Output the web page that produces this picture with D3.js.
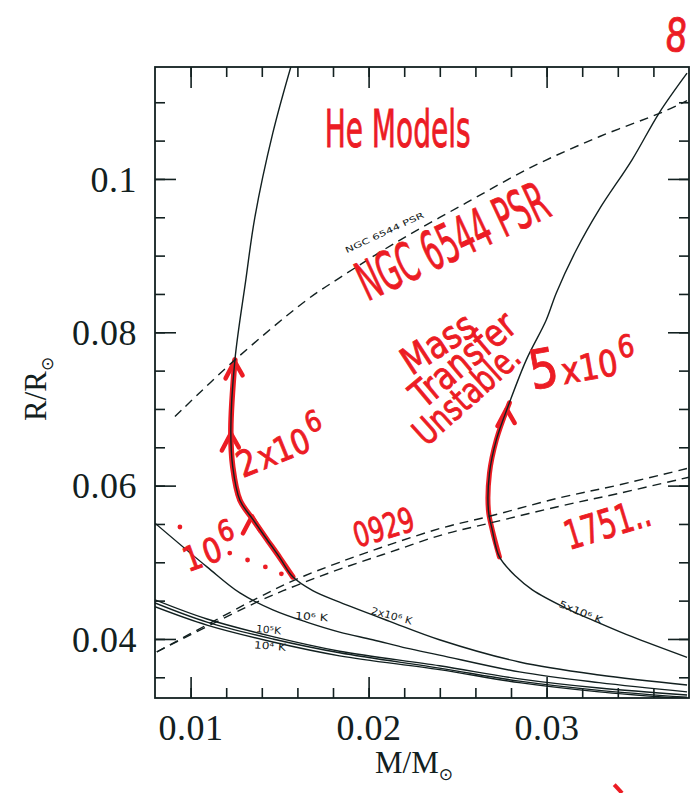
<!DOCTYPE html>
<html>
<head>
<meta charset="utf-8">
<script src="https://cdn.jsdelivr.net/npm/d3@7"></script>
<style>
  body { margin: 0; background: #fff; }
  svg { display: block; }
  .red { font-family: "DejaVu Sans", sans-serif; fill: #ec1c24; stroke: #ec1c24; stroke-width: 0.9; }
  .tag { font-family: "DejaVu Sans", sans-serif; fill: #122020; }
</style>
</head>
<body>
<svg id="chart" width="698" height="793"></svg>
<script>
// tick values
const xTicks = [0.01, 0.012, 0.014, 0.016, 0.018, 0.02, 0.022, 0.024, 0.026, 0.028, 0.03, 0.032, 0.034, 0.036];
const xMajor = [0.01, 0.02, 0.03];
const yTicks = [0.035, 0.04, 0.045, 0.05, 0.055, 0.06, 0.065, 0.07, 0.075, 0.08, 0.085, 0.09, 0.095, 0.1, 0.105, 0.11];
const yMajor = [0.04, 0.06, 0.08, 0.1];

// evolutionary tracks, [M/Msun, R/Rsun]
const track2e6 = [[0.01563, 0.1146], [0.01462, 0.1060], [0.01361, 0.0950], [0.01310, 0.0868], [0.01249, 0.0764],
  [0.01226, 0.0673], [0.01237, 0.0624], [0.01277, 0.0581], [0.01350, 0.0556], [0.01422, 0.0532], [0.01501, 0.0506],
  [0.01574, 0.0481], [0.01686, 0.0463], [0.01837, 0.0448], [0.02118, 0.0423], [0.02398, 0.0399], [0.02847, 0.0370],
  [0.03295, 0.0353], [0.03789, 0.0340]];
const track5e6 = [[0.03789, 0.1138], [0.03632, 0.1086], [0.03480, 0.1025], [0.03295, 0.0960], [0.03166, 0.0907],
  [0.03054, 0.0851], [0.02998, 0.0816], [0.02886, 0.0764], [0.02791, 0.0708], [0.02718, 0.0660], [0.02679, 0.0616],
  [0.02673, 0.0568], [0.02695, 0.0542], [0.02735, 0.0507], [0.02830, 0.0481], [0.02920, 0.0464], [0.03110, 0.0440],
  [0.03295, 0.0421], [0.03480, 0.0403], [0.03789, 0.0376]];
const track1e6 = [[0.00800, 0.0551], [0.01092, 0.0494], [0.01277, 0.0460], [0.01462, 0.0438], [0.01652, 0.0422],
  [0.01837, 0.0409], [0.02023, 0.0399], [0.02213, 0.0388], [0.02398, 0.0379], [0.02847, 0.0357], [0.03295, 0.0343],
  [0.03789, 0.0331]];
const track1e5 = [[0.008, 0.0451], [0.01092, 0.0426], [0.01462, 0.0403], [0.01837, 0.0384], [0.02398, 0.0365],
  [0.02847, 0.0348], [0.03295, 0.0336], [0.03789, 0.0327]];
const track1e4 = [[0.008, 0.0447], [0.01092, 0.0422], [0.01462, 0.0400], [0.01837, 0.0382], [0.02398, 0.0362],
  [0.02847, 0.0345], [0.03295, 0.0333], [0.03789, 0.0324]];
const track1e3 = [[0.008, 0.0442], [0.01092, 0.0418], [0.01462, 0.0396], [0.01837, 0.0378], [0.02398, 0.0360],
  [0.02847, 0.0343], [0.03295, 0.0331], [0.03789, 0.0322]];

// Roche-lobe radii (dashed)
const ngc6544 = [[0.00912, 0.0690], [0.01249, 0.0764], [0.01652, 0.0842], [0.01837, 0.0871], [0.02174, 0.0920],
  [0.02550, 0.0969], [0.02920, 0.1016], [0.03295, 0.1055], [0.03649, 0.1087], [0.03789, 0.1102]];
const rocheUpper = [[0.0081, 0.0383], [0.01372, 0.0453], [0.01596, 0.0478], [0.01837, 0.0500], [0.02118, 0.0523],
  [0.02415, 0.0545], [0.02679, 0.0560], [0.03071, 0.0584], [0.03408, 0.0601], [0.03800, 0.0623]];
const rocheLower = [[0.0081, 0.0383], [0.01372, 0.0448], [0.01596, 0.0470], [0.01837, 0.0491], [0.02118, 0.0513],
  [0.02415, 0.0536], [0.02679, 0.0551], [0.03071, 0.0573], [0.03408, 0.0590], [0.03800, 0.0611]];

// hand-drawn red marks
const redDots = [[0.0094, 0.0546], [0.0122, 0.0512], [0.0132, 0.0503], [0.0142, 0.0494], [0.0151, 0.0485]];
const arrowTips = [[0.01247, 0.0762], [0.01226, 0.0668], [0.01345, 0.0560], [0.02775, 0.0700]];

const x = d3.scaleLinear().domain([0.008, 0.038]).range([155, 689]);
const y = d3.scaleLinear().domain([0.0323, 0.1146]).range([698, 67]);

const svg = d3.select("#chart");
const line = d3.line().x(d => x(d[0])).y(d => y(d[1])).curve(d3.curveCatmullRom.alpha(0.5));
const ink = "#122020";
const red = "#ec1c24";

svg.append("clipPath").attr("id", "plot")
  .append("rect")
  .attr("x", x(0.008)).attr("y", y(0.1146))
  .attr("width", x(0.038) - x(0.008)).attr("height", y(0.0323) - y(0.1146));

// red strokes drawn over the tracks
const hl = svg.append("g").attr("clip-path", "url(#plot)")
  .attr("fill", "none").attr("stroke", red).attr("stroke-linecap", "round");

hl.append("path")
  .attr("d", line(track2e6.filter(d => d[1] <= 0.0765 && d[1] >= 0.048)))
  .attr("stroke-width", 5.5);
hl.append("path")
  .attr("d", line(track5e6.filter(d => d[1] <= 0.0709 && d[1] >= 0.0507)))
  .attr("stroke-width", 5);

hl.selectAll(".arrow")
  .data(arrowTips)
  .join("path")
  .attr("class", "arrow")
  .attr("stroke-width", 4.5)
  .attr("stroke-linejoin", "round")
  .attr("d", d => {
    const tx = x(d[0]), ty = y(d[1]);
    return `M${tx - 9},${ty + 17}L${tx},${ty}L${tx + 8},${ty + 14}`;
  });

hl.selectAll(".dot")
  .data(redDots)
  .join("circle")
  .attr("class", "dot")
  .attr("cx", d => x(d[0])).attr("cy", d => y(d[1]))
  .attr("r", 2.4).attr("fill", red).attr("stroke", "none");

// curves
const curves = svg.append("g").attr("clip-path", "url(#plot)")
  .attr("fill", "none").attr("stroke", ink).attr("stroke-width", 1.4);

[track2e6, track5e6, track1e6, track1e5, track1e4, track1e3].forEach(t => {
  curves.append("path").attr("d", line(t));
});
[ngc6544, rocheUpper, rocheLower].forEach(t => {
  curves.append("path").attr("d", line(t)).attr("stroke-dasharray", "9,6");
});

// frame and ticks
svg.append("rect")
  .attr("x", x(0.008)).attr("y", y(0.1146))
  .attr("width", x(0.038) - x(0.008)).attr("height", y(0.0323) - y(0.1146))
  .attr("fill", "none").attr("stroke", ink).attr("stroke-width", 1.8);

const tickAxis = (g, axis) => {
  g.call(axis).call(g => g.select(".domain").remove());
  g.selectAll(".tick line").attr("stroke", ink).attr("stroke-width", 1.6);
  g.selectAll(".tick text").remove();
};

[[d3.axisBottom, y(0.0323), xTicks, 10], [d3.axisBottom, y(0.0323), xMajor, 21],
 [d3.axisTop, y(0.1146), xTicks, 10], [d3.axisTop, y(0.1146), xMajor, 21]].forEach(([ax, pos, vals, len]) => {
  svg.append("g").attr("transform", `translate(0,${pos})`)
    .call(tickAxis, ax(x).tickValues(vals).tickSize(-len));
});
[[d3.axisLeft, x(0.008), yTicks, 10], [d3.axisLeft, x(0.008), yMajor, 21],
 [d3.axisRight, x(0.038), yTicks, 10], [d3.axisRight, x(0.038), yMajor, 21]].forEach(([ax, pos, vals, len]) => {
  svg.append("g").attr("transform", `translate(${pos},0)`)
    .call(tickAxis, ax(y).tickValues(vals).tickSize(-len));
});

// tick labels
const xLab = svg.append("g").attr("transform", `translate(0,${y(0.0323)})`)
  .call(d3.axisBottom(x).tickValues(xMajor).tickSize(0).tickFormat(d => String(d)));
xLab.select(".domain").remove();
xLab.selectAll("text").attr("y", 42).attr("dy", null);

const yLab = svg.append("g").attr("transform", `translate(${x(0.008)},0)`)
  .call(d3.axisLeft(y).tickValues(yMajor).tickSize(0).tickFormat(d => String(d)));
yLab.select(".domain").remove();
yLab.selectAll("text").attr("x", -18).attr("dy", "0.34em");

[xLab, yLab].forEach(g => g
  .attr("font-family", "'Liberation Serif', 'DejaVu Serif', serif")
  .attr("font-size", 36)
  .attr("letter-spacing", 0.5)
  .selectAll("text").attr("fill", ink));

// axis titles
const xt = svg.append("text")
  .attr("x", 375).attr("y", 773)
  .attr("font-family", "'Liberation Serif', serif").attr("font-size", 31).attr("fill", ink);
xt.append("tspan").text("M/M");
xt.append("tspan").attr("dy", 7).attr("font-size", 17).attr("font-family", "'DejaVu Sans', sans-serif").text("⊙");

const yt = svg.append("text")
  .attr("transform", "translate(46,421) rotate(-90)")
  .attr("font-family", "'Liberation Serif', serif").attr("font-size", 31).attr("fill", ink);
yt.append("tspan").text("R/R");
yt.append("tspan").attr("dy", 7).attr("font-size", 17).attr("font-family", "'DejaVu Sans', sans-serif").text("⊙");

// small printed labels on the curves
const tags = [
  { text: "NGC 6544 PSR", at: [0.01877, 0.0903], rot: -25, size: 8, len: 86 },
  { text: "10⁶ K", at: [0.01585, 0.0426], rot: 4, size: 10, len: 33 },
  { text: "2x10⁶ K", at: [0.02011, 0.0433], rot: 15, size: 10, len: 42 },
  { text: "10⁵K", at: [0.01366, 0.0409], rot: 5, size: 10, len: 25 },
  { text: "10⁴ K", at: [0.01355, 0.0388], rot: 5, size: 10, len: 32 },
  { text: "5x10⁶ K", at: [0.03065, 0.0442], rot: 22, size: 10, len: 46 }
];
svg.selectAll(".tag")
  .data(tags)
  .join("text")
  .attr("class", "tag")
  .attr("transform", d => `translate(${x(d.at[0])},${y(d.at[1])}) rotate(${d.rot})`)
  .attr("font-size", d => d.size)
  .attr("textLength", d => d.len)
  .attr("lengthAdjust", "spacingAndGlyphs")
  .text(d => d.text);

// handwritten annotations, squeezed horizontally to the written width
const notes = [
  { text: "He Models", at: [0.01753, 0.1042], rot: 0, size: 52, len: 146 },
  { text: "NGC 6544 PSR", at: [0.01994, 0.0840], rot: -25, size: 54, len: 205 },
  { text: "Mass", at: [0.02241, 0.0743], rot: -33, size: 38, len: 80 },
  { text: "Transfer", at: [0.02308, 0.0699], rot: -40, size: 38, len: 125 },
  { text: "Unstable.", at: [0.02325, 0.0650], rot: -42, size: 36, len: 130 },
  { text: "0929", at: [0.01938, 0.0519], rot: -17, size: 34, len: 62 },
  { text: "1751..", at: [0.03127, 0.0516], rot: -17, size: 40, len: 88 },
  { text: "8", at: [0.03660, 0.1168], rot: 5, size: 46, len: 22 }
];
svg.selectAll(".note")
  .data(notes)
  .join("text")
  .attr("class", "red note")
  .attr("font-size", d => d.size)
  .text(d => d.text)
  .attr("transform", function (d) {
    const w = this.getComputedTextLength();
    return `translate(${x(d.at[0])},${y(d.at[1])}) rotate(${d.rot}) scale(${d.len / w},1)`;
  });

const powers = [
  { base: "5", rest: "x10", exp: "6", at: [0.02920, 0.0725], rot: -10, big: 54, size: 36 },
  { base: "2", rest: "x10", exp: "6", at: [0.01293, 0.0610], rot: -22, big: 36, size: 34 },
  { base: "1", rest: "0", exp: "6", at: [0.00985, 0.0487], rot: -20, big: 34, size: 34 }
];
powers.forEach(p => {
  const t = svg.append("text").attr("class", "red")
    .attr("transform", `translate(${x(p.at[0])},${y(p.at[1])}) rotate(${p.rot}) scale(0.85,1)`);
  t.append("tspan").attr("font-size", p.big).text(p.base);
  t.append("tspan").attr("font-size", p.size).attr("dx", 3).text(p.rest);
  t.append("tspan").attr("font-size", p.size * 0.85).attr("dx", 3).attr("dy", -16).text(p.exp);
});

// stray pen stroke below the plot
svg.append("path")
  .attr("d", line([[0.03380, 0.0210], [0.03424, 0.0199]]))
  .attr("stroke", red).attr("stroke-width", 4).attr("fill", "none");
</script>
</body>
</html>
